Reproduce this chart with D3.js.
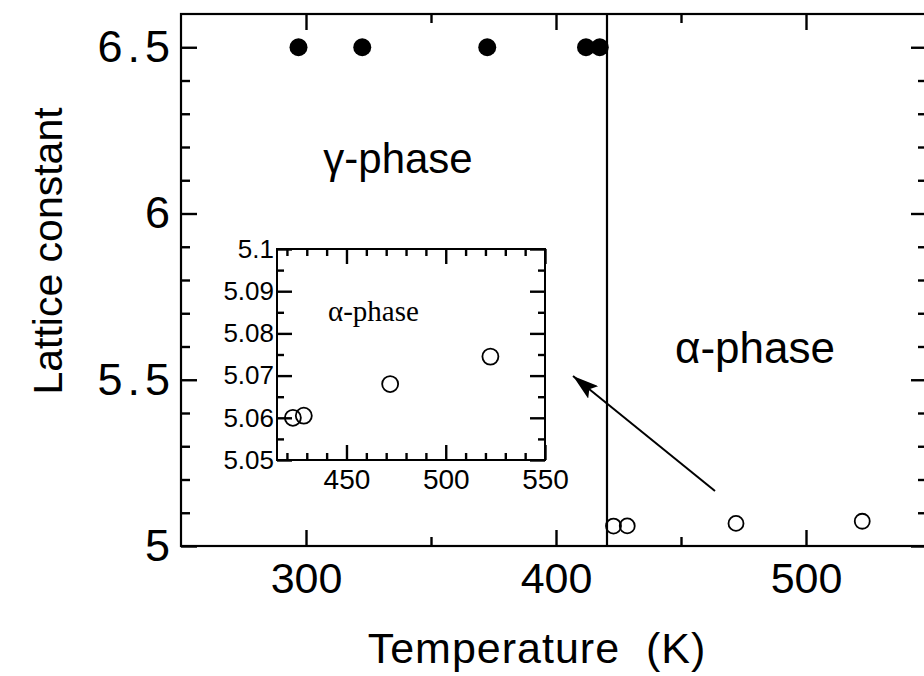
<!DOCTYPE html>
<html>
<head>
<meta charset="utf-8">
<script src="https://cdn.jsdelivr.net/npm/d3@7"></script>
<style>
  body { margin: 0; background: #fff; }
  svg { display: block; font-family: "Liberation Sans", Arial, sans-serif; }
</style>
</head>
<body>
<div id="chart"></div>
<script>
// gamma phase (filled), alpha phase (open)
const gammaTemp = [297, 322.5, 372.5, 412, 417.5];
const gammaLattice = [6.5, 6.5, 6.5, 6.5, 6.5];
const alphaTemp = [423, 428.5, 472, 522.5];
const alphaLattice = [5.0600, 5.0605, 5.0680, 5.0745];
const transitionTemp = 420.4;

const xMajor = [300, 400, 500],
    xMinor = [350, 450],
    yMajor = [5, 5.5, 6, 6.5],
    yMinor = [5.1, 5.2, 5.3, 5.4, 5.6, 5.7, 5.8, 5.9, 6.1, 6.2, 6.3, 6.4];
const insetXMajor = [450, 500, 550],
    insetXMinor = [420, 430, 440, 460, 470, 480, 490, 510, 520, 530, 540],
    insetYMajor = [5.05, 5.06, 5.07, 5.08, 5.09, 5.1],
    insetYMinor = [5.055, 5.065, 5.075, 5.085, 5.095];

const width = 924, height = 676;
const margin = ({top: 14, right: -7, bottom: 130, left: 181});

const svg = d3.select("#chart")
    .append("svg")
    .attr("width", width)
    .attr("height", height);

let x = d3.scaleLinear()
    .domain([250, 550])
    .range([margin.left, width - margin.right]);

let y = d3.scaleLinear()
    .domain([5, 6.6])
    .range([height - margin.bottom, margin.top]);

const gammaData = gammaTemp.map((t, i) => ({t: t, a: gammaLattice[i]}));
const alphaData = alphaTemp.map((t, i) => ({t: t, a: alphaLattice[i]}));

function styleAxis(g, fs) {
    g.select(".domain").remove();
    g.selectAll(".tick line").attr("stroke", "#000").attr("stroke-width", 2.4);
    g.selectAll(".tick text").attr("fill", "#000").attr("font-size", fs);
}

// main axes, ticks pointing inward
const maj = 16, mnr = 9;
svg.append("g").attr("transform", `translate(0,${y(5)})`)
    .call(d3.axisBottom(x).tickValues(xMajor).tickSize(-maj).tickPadding(16).tickFormat(d3.format("d")))
    .call(g => styleAxis(g, 43));
svg.append("g").attr("transform", `translate(0,${y(5)})`)
    .call(d3.axisBottom(x).tickValues(xMinor).tickSize(-mnr).tickFormat(""))
    .call(g => styleAxis(g, 43));
svg.append("g").attr("transform", `translate(0,${margin.top})`)
    .call(d3.axisTop(x).tickValues(xMajor).tickSize(-maj).tickFormat(""))
    .call(g => styleAxis(g, 43));
svg.append("g").attr("transform", `translate(0,${margin.top})`)
    .call(d3.axisTop(x).tickValues(xMinor).tickSize(-mnr).tickFormat(""))
    .call(g => styleAxis(g, 43));

svg.append("g").attr("transform", `translate(${x(250)},0)`)
    .call(d3.axisLeft(y).tickValues(yMajor).tickSize(-maj).tickPadding(6).tickFormat(d3.format("~g")))
    .call(g => styleAxis(g, 45))
    .call(g => g.selectAll(".tick text").attr("letter-spacing", 5));
svg.append("g").attr("transform", `translate(${x(250)},0)`)
    .call(d3.axisLeft(y).tickValues(yMinor).tickSize(-mnr).tickFormat(""))
    .call(g => styleAxis(g, 43));
svg.append("g").attr("transform", `translate(${x(550)},0)`)
    .call(d3.axisRight(y).tickValues(yMajor).tickSize(-maj - 4).tickFormat(""))
    .call(g => styleAxis(g, 43));
svg.append("g").attr("transform", `translate(${x(550)},0)`)
    .call(d3.axisRight(y).tickValues(yMinor).tickSize(-mnr - 4).tickFormat(""))
    .call(g => styleAxis(g, 43));

// frame
svg.append("rect")
    .attr("x", x(250)).attr("y", y(6.6))
    .attr("width", x(550) - x(250)).attr("height", y(5) - y(6.6))
    .attr("fill", "none").attr("stroke", "#000").attr("stroke-width", 2.2);

// phase boundary
svg.append("line")
    .attr("x1", x(transitionTemp)).attr("x2", x(transitionTemp))
    .attr("y1", y(6.6)).attr("y2", y(5))
    .attr("stroke", "#000").attr("stroke-width", 2.2);

svg.selectAll(".gamma")
    .data(gammaData)
    .join("circle")
    .attr("class", "gamma")
    .attr("cx", d => x(d.t))
    .attr("cy", d => y(d.a))
    .attr("r", 9)
    .attr("fill", "#000");

svg.selectAll(".alpha")
    .data(alphaData)
    .join("circle")
    .attr("class", "alpha")
    .attr("cx", d => x(d.t))
    .attr("cy", d => y(d.a))
    .attr("r", 7.5)
    .attr("fill", "none")
    .attr("stroke", "#000")
    .attr("stroke-width", 1.8);

svg.append("text")
    .attr("x", 398).attr("y", 173)
    .attr("text-anchor", "middle")
    .attr("font-size", 42)
    .text("γ-phase");

svg.append("text")
    .attr("x", 755).attr("y", 363)
    .attr("text-anchor", "middle")
    .attr("font-size", 44)
    .text("α-phase");

// axis titles
svg.append("text")
    .attr("x", 537).attr("y", 663)
    .attr("text-anchor", "middle")
    .attr("font-size", 43)
    .attr("letter-spacing", 1)
    .style("white-space", "pre")
    .text("Temperature  (K)");

svg.append("text")
    .attr("transform", "translate(62,251) rotate(-90)")
    .attr("text-anchor", "middle")
    .attr("font-size", 41)
    .text("Lattice constant");

// arrow
svg.append("defs").append("marker")
    .attr("id", "head")
    .attr("viewBox", "0 0 26 16")
    .attr("refX", 26).attr("refY", 8)
    .attr("markerWidth", 26).attr("markerHeight", 16)
    .attr("markerUnits", "userSpaceOnUse")
    .attr("orient", "auto")
    .append("path")
    .attr("d", "M0,0 L26,8 L0,16 L5,8 Z")
    .attr("fill", "#000");

svg.append("line")
    .attr("x1", 715).attr("y1", 491)
    .attr("x2", 573).attr("y2", 376)
    .attr("stroke", "#000")
    .attr("stroke-width", 2)
    .attr("marker-end", "url(#head)");

// inset
const inset = svg.append("g");
let xi = d3.scaleLinear().domain([415, 550]).range([277, 545]);
let yi = d3.scaleLinear().domain([5.05, 5.1]).range([460, 249]);

const imaj = 15, imnr = 7;
inset.append("rect")
    .attr("x", xi(415)).attr("y", yi(5.1))
    .attr("width", xi(550) - xi(415)).attr("height", yi(5.05) - yi(5.1))
    .attr("fill", "#fff");

inset.append("g").attr("transform", `translate(0,${yi(5.05)})`)
    .call(d3.axisBottom(xi).tickValues(insetXMajor).tickSize(-imaj).tickPadding(9).tickFormat(d3.format("d")))
    .call(g => styleAxis(g, 28));
inset.append("g").attr("transform", `translate(0,${yi(5.05)})`)
    .call(d3.axisBottom(xi).tickValues(insetXMinor).tickSize(-imnr).tickFormat(""))
    .call(g => styleAxis(g, 28));
inset.append("g").attr("transform", `translate(0,${yi(5.1)})`)
    .call(d3.axisTop(xi).tickValues(insetXMajor).tickSize(-imaj).tickFormat(""))
    .call(g => styleAxis(g, 28));
inset.append("g").attr("transform", `translate(0,${yi(5.1)})`)
    .call(d3.axisTop(xi).tickValues(insetXMinor).tickSize(-imnr).tickFormat(""))
    .call(g => styleAxis(g, 28));
inset.append("g").attr("transform", `translate(${xi(415)},0)`)
    .call(d3.axisLeft(yi).tickValues(insetYMajor).tickSize(-imaj).tickPadding(3).tickFormat(d3.format("~g")))
    .call(g => styleAxis(g, 26));
inset.append("g").attr("transform", `translate(${xi(415)},0)`)
    .call(d3.axisLeft(yi).tickValues(insetYMinor).tickSize(-imnr).tickFormat(""))
    .call(g => styleAxis(g, 26));
inset.append("g").attr("transform", `translate(${xi(550)},0)`)
    .call(d3.axisRight(yi).tickValues(insetYMajor).tickSize(-imaj).tickFormat(""))
    .call(g => styleAxis(g, 26));
inset.append("g").attr("transform", `translate(${xi(550)},0)`)
    .call(d3.axisRight(yi).tickValues(insetYMinor).tickSize(-imnr).tickFormat(""))
    .call(g => styleAxis(g, 26));

inset.append("rect")
    .attr("x", xi(415)).attr("y", yi(5.1))
    .attr("width", xi(550) - xi(415)).attr("height", yi(5.05) - yi(5.1))
    .attr("fill", "none").attr("stroke", "#000").attr("stroke-width", 2);

inset.selectAll(".ialpha")
    .data(alphaData)
    .join("circle")
    .attr("class", "ialpha")
    .attr("cx", d => xi(d.t))
    .attr("cy", d => yi(d.a))
    .attr("r", 8)
    .attr("fill", "none")
    .attr("stroke", "#000")
    .attr("stroke-width", 1.8);

inset.append("text")
    .attr("x", 328).attr("y", 321)
    .attr("font-family", "'Liberation Serif', 'Times New Roman', serif")
    .attr("font-size", 29)
    .text("α-phase");
</script>
</body>
</html>
